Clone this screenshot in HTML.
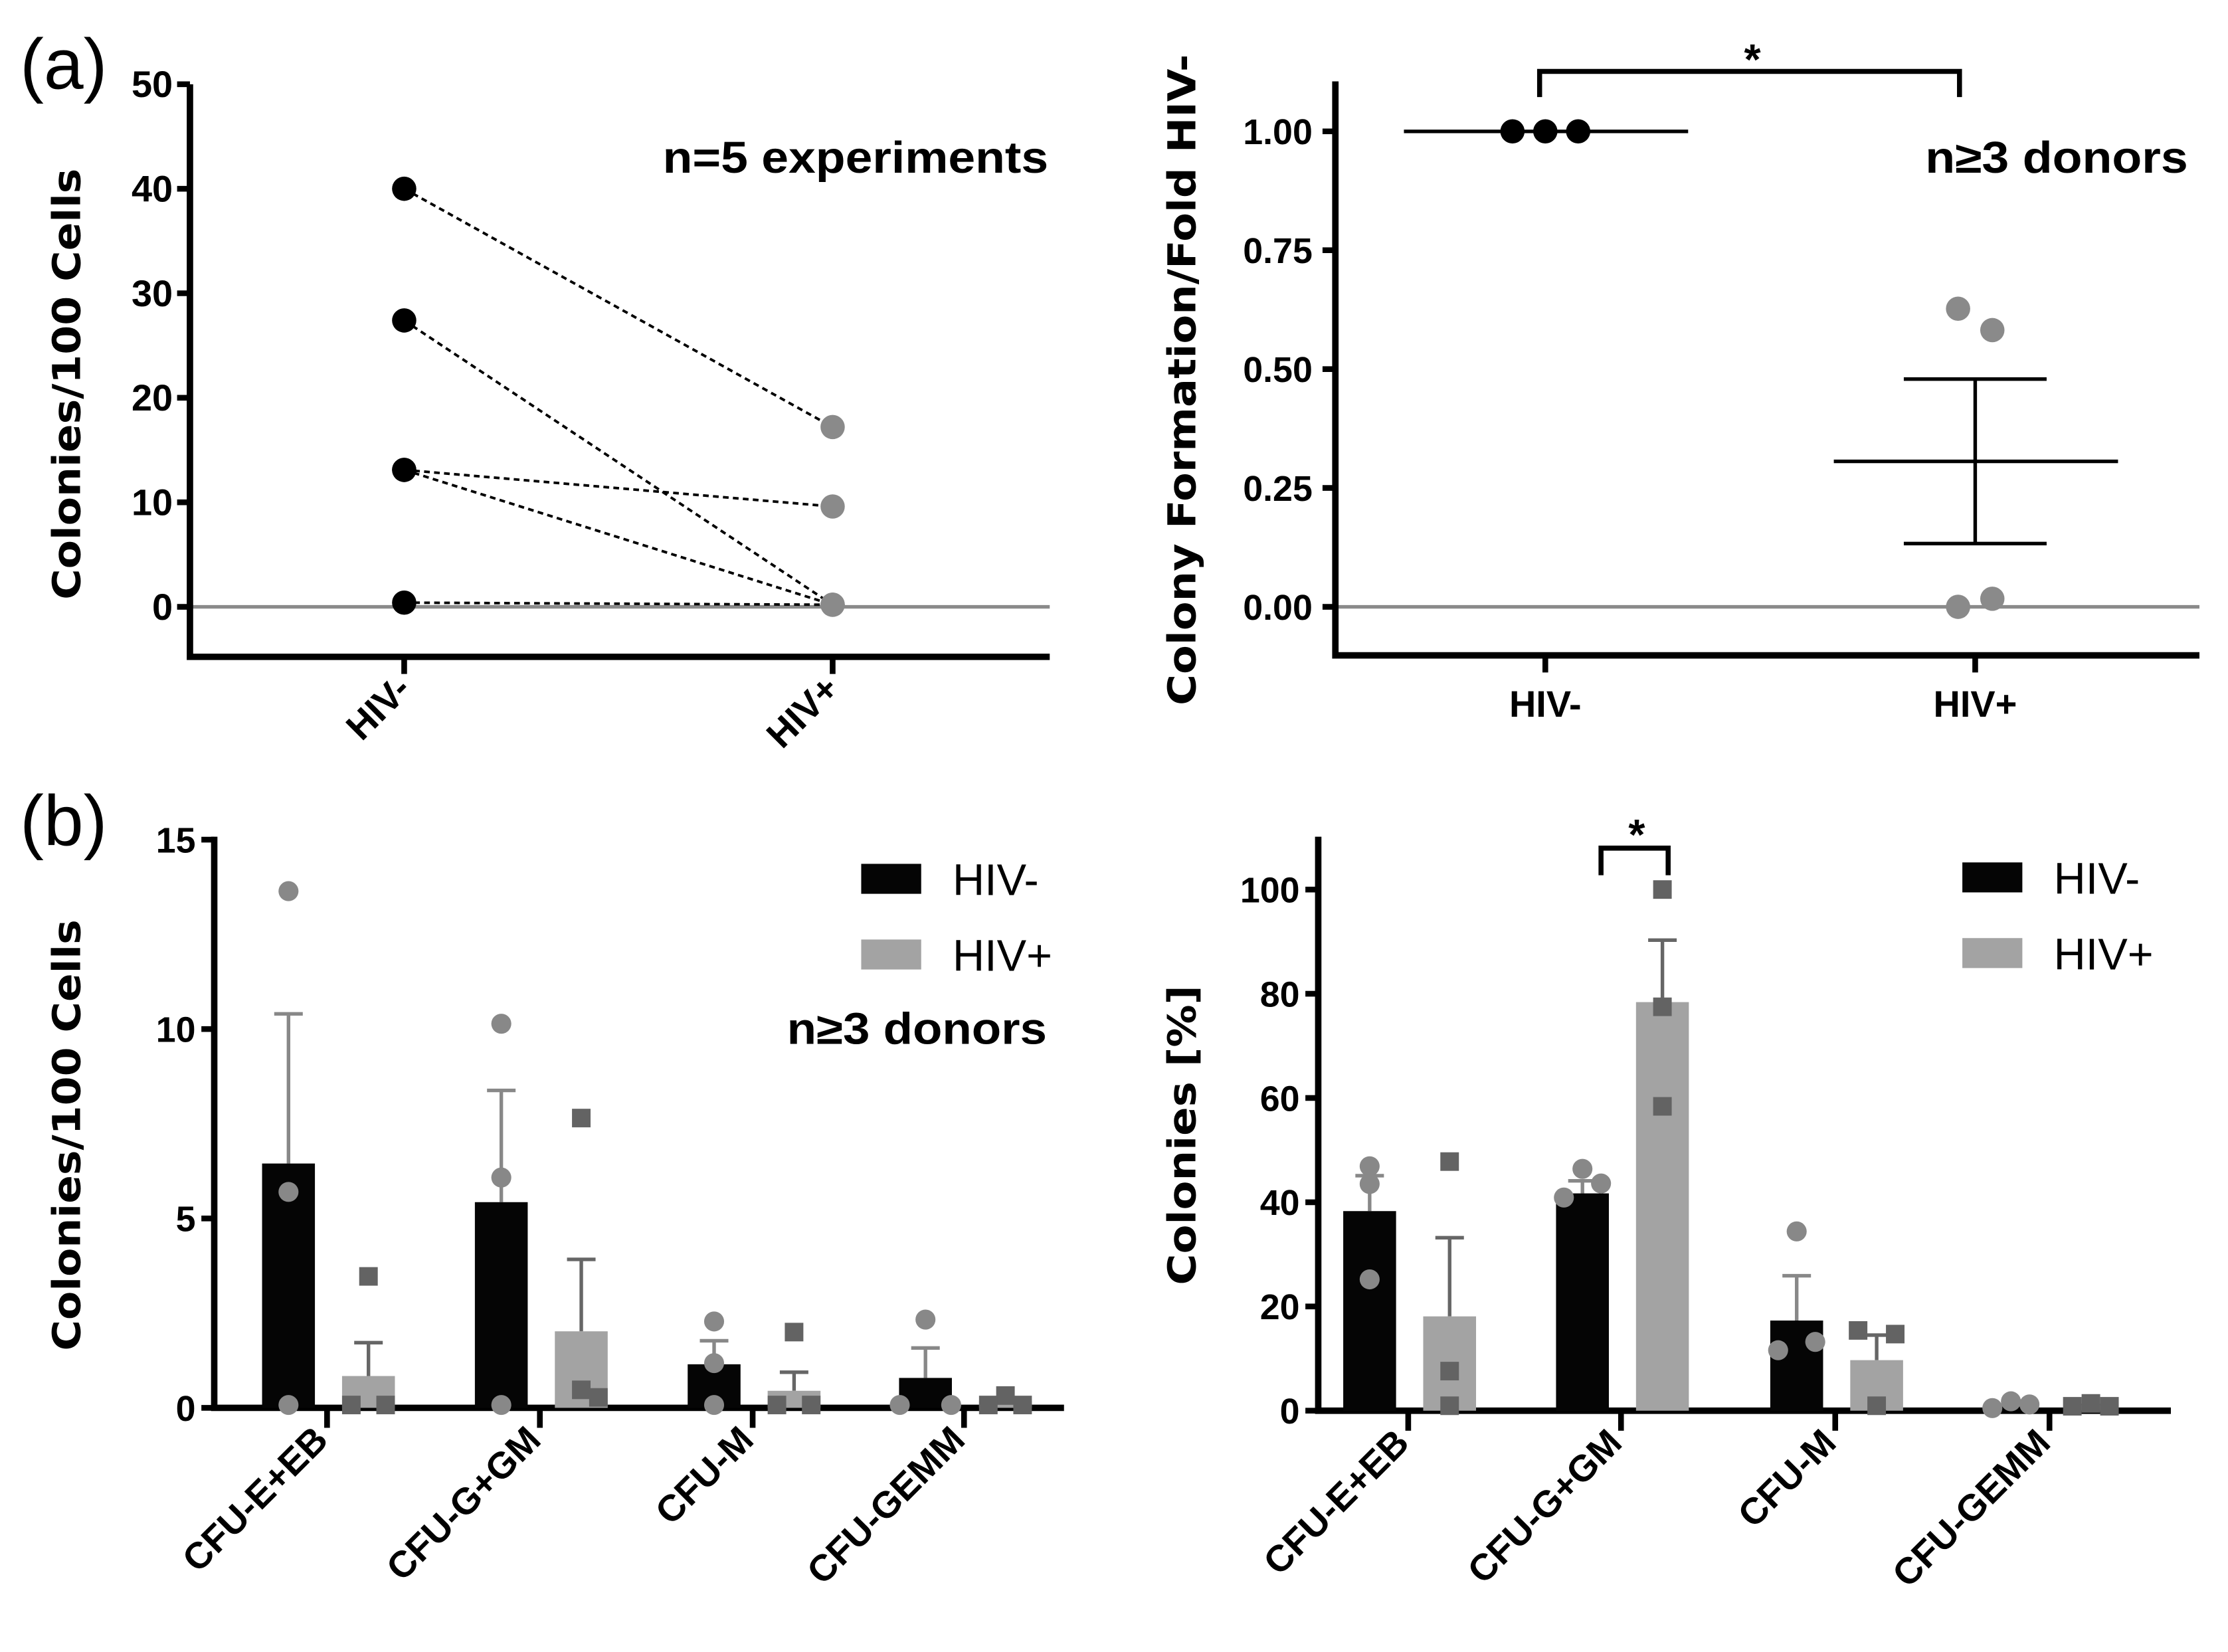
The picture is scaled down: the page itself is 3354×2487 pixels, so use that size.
<!DOCTYPE html>
<html><head><meta charset="utf-8"><style>
html,body{margin:0;padding:0;background:#fff}
svg{display:block}
text{font-family:"Liberation Sans Narrow","Liberation Sans",sans-serif;font-weight:bold;fill:#000}
.t{font-family:"DejaVu Sans","Liberation Sans",sans-serif;font-weight:bold}
.r{font-weight:normal}
</style></head><body>
<svg id="fig" xmlns="http://www.w3.org/2000/svg" width="3354" height="2487" viewBox="0 0 1560 1157" preserveAspectRatio="none">
<text x="14" y="62" font-size="50" class="r">(a)</text>
<text x="14" y="592" font-size="50" class="r">(b)</text>
<g id="a1"></g>
<g id="a2"></g>
<g id="b1"></g>
<g id="b2"></g>
</svg>
<script>
// Panel a-left data
const a1Cats = ["HIV-","HIV+"];
const a1Neg = [40, 27.4, 13.1, 13.1, 0.4];
const a1Pos = [17.2, 0.2, 9.6, 0.2, 0.2];
const a1Ticks = [0,10,20,30,40,50];
// Panel a-right data
const a2Cats = ["HIV-","HIV+"];
const a2Neg = [1, 1, 1];
const a2Pos = [0.627, 0.582, 0.0, 0.017];
const a2Mean = [1, 0.306];
const a2Sem = [0, 0.173];
const a2Ticks = [0,0.25,0.5,0.75,1.0];
// Panel b-left data
const bCats = ["CFU-E+EB","CFU-G+GM","CFU-M","CFU-GEMM"];
const b1NegMean = [6.45, 5.43, 1.15, 0.79];
const b1NegErr = [10.4, 8.38, 1.77, 1.58];
const b1PosMean = [0.84, 2.02, 0.45, 0.19];
const b1PosErr = [1.72, 3.92, 0.94, 0.19];
const b1NegPts = [[13.64,5.7,0],[10.14,6.08,0],[2.28,1.18,0],[2.33,0,0]];
const b1PosPts = [[3.47,0,0],[7.65,0.4,0.2],[2.0,0,0],[0.25,0,0]];
const b1Ticks = [0,5,10,15];
// Panel b-right data
const b2NegMean = [38.3, 41.7, 17.3, 0.8];
const b2NegErr = [45.1, 44.1, 25.9, 0.8];
const b2PosMean = [18.1, 78.4, 9.7, 1.0];
const b2PosErr = [33.2, 90.3, 14.5, 1.0];
const b2NegPts = [[46.9,43.5,25.2],[46.4,40.9,43.6],[34.4,11.6,13.2],[1.8,0.5,1.2]];
const b2PosPts = [[47.8,7.6,0.4],[100,77.5,58.4],[15.4,0.4,14.7],[1.4,0.3,0.3]];
const b2Ticks = [0,20,40,60,80,100];

// horizontal scatter offsets (style only)
const b1NegJit=[[0,0,0],[0,0,0],[0,0,0],[0,-18,18]];
const b1PosJit=[[0,-12,12],[0,0,12],[0,-12,12],[0,-12,12]];
const b2NegJit=[[0,0,0],[0,-13,13],[0,-13,13],[0,-13,13]];
const b2PosJit=[[0,0,0],[0,0,0],[-13,0,13],[0,-13,13]];

const NS="http://www.w3.org/2000/svg";
function mk(parent,tag,attrs,txt){const e=document.createElementNS(NS,tag);for(const k in attrs)e.setAttribute(k,attrs[k]);if(txt!==undefined)e.textContent=txt;parent.appendChild(e);return e;}

// ---------- A1 ----------
(function(){
const g=document.getElementById('a1');
const X0=133,X1=735,Yb=460,Yt=59;
const y=v=>425-v*7.32;
const xc=i=>[283,583][i];
let l=mk(g,'line',{x1:X0,y1:y(0),x2:X1,y2:y(0),stroke:'#8a8a8a','stroke-width':2.5});


let ax=mk(g,'path',{d:`M${X0},${Yt}V${Yb}H${X1}`,fill:'none',stroke:'#000','stroke-width':4.5});


a1Ticks.forEach(t=>{
 mk(g,'line',{x1:X0-9,y1:y(t),x2:X0,y2:y(t),stroke:'#000','stroke-width':4});
 const tx=mk(g,'text',{x:X0-12,y:y(t)+9,'font-size':26,'text-anchor':'end'},t);
 
 
});
a1Cats.forEach((c,i)=>{
 mk(g,'line',{x1:xc(i),y1:Yb,x2:xc(i),y2:Yb+12,stroke:'#000','stroke-width':4});
 const tx=mk(g,'text',{x:xc(i)+6,y:Yb+24,'font-size':26,'text-anchor':'end',transform:`rotate(-45 ${xc(i)+6} ${Yb+24})`},c);
 
 
});
a1Neg.forEach((v,i)=>{
 const ln=mk(g,'line',{x1:xc(0),y1:y(v),x2:xc(1),y2:y(a1Pos[i]),stroke:'#000','stroke-width':1.8,'stroke-dasharray':'4 3'});
 
 
});
a1Neg.forEach(v=>{const c=mk(g,'circle',{cx:xc(0),cy:y(v),r:8.5,fill:'#000'});
 
 });
a1Pos.forEach(v=>{const c=mk(g,'circle',{cx:xc(1),cy:y(v),r:8.5,fill:'#8a8a8a'});
 
 });
let t=mk(g,'text',{x:734,y:121,'font-size':31,'text-anchor':'end',textLength:270,lengthAdjust:'spacingAndGlyphs'},'n=5 experiments');


t=mk(g,'text',{x:0,y:0,'font-size':27,'text-anchor':'middle',class:'t',transform:'translate(56 269) rotate(-90)',textLength:302,lengthAdjust:'spacingAndGlyphs'},'Colonies/100 Cells');


})();

// ---------- A2 ----------
(function(){
const g=document.getElementById('a2');
const X0=935,X1=1540,Yb=459,Yt=57;
const y=v=>425-v*333;
const xc=i=>[1082,1383][i];
let l=mk(g,'line',{x1:X0,y1:y(0),x2:X1,y2:y(0),stroke:'#8a8a8a','stroke-width':2.5});


let ax=mk(g,'path',{d:`M${X0},${Yt}V${Yb}H${X1}`,fill:'none',stroke:'#000','stroke-width':4.5});


a2Ticks.forEach(t=>{
 mk(g,'line',{x1:X0-9,y1:y(t),x2:X0,y2:y(t),stroke:'#000','stroke-width':4});
 const tx=mk(g,'text',{x:X0-16,y:y(t)+9,'font-size':25,'text-anchor':'end'},t.toFixed(2));
 
 
});
a2Cats.forEach((c,i)=>{
 mk(g,'line',{x1:xc(i),y1:Yb,x2:xc(i),y2:Yb+12,stroke:'#000','stroke-width':4});
 const tx=mk(g,'text',{x:xc(i),y:Yb+43,'font-size':26,'text-anchor':'middle'},c);
 
 
});
[0,1].forEach(i=>{
 const m=mk(g,'line',{x1:xc(i)-99,y1:y(a2Mean[i]),x2:xc(i)+100,y2:y(a2Mean[i]),stroke:'#000','stroke-width':2.5});
 
 
 if(a2Sem[i]>0){
  const hi=y(a2Mean[i]+a2Sem[i]),lo=y(a2Mean[i]-a2Sem[i]);
  const e=mk(g,'path',{d:`M${xc(i)},${hi}V${lo}M${xc(i)-50},${hi}H${xc(i)+50}M${xc(i)-50},${lo}H${xc(i)+50}`,stroke:'#000','stroke-width':2.5,fill:'none'});
  
  
 }
});
a2Neg.forEach((v,i)=>{const c=mk(g,'circle',{cx:xc(0)-23+i*23,cy:y(v),r:8.5,fill:'#000'});
 
 });
a2Pos.forEach((v,i)=>{const c=mk(g,'circle',{cx:xc(1)+(i%2?12:-12),cy:y(v),r:8.5,fill:'#8a8a8a'});
 
 });
const b=mk(g,'path',{d:`M${xc(0)-4},68V50H${xc(1)-11}V68`,stroke:'#000','stroke-width':3.5,fill:'none'});


let t=mk(g,'text',{x:1227,y:52,'font-size':30,'text-anchor':'middle'},'*');


t=mk(g,'text',{x:1532,y:121,'font-size':31,'text-anchor':'end',textLength:184,lengthAdjust:'spacingAndGlyphs'},'n≥3 donors');


t=mk(g,'text',{x:0,y:0,'font-size':27,'text-anchor':'middle',class:'t',transform:'translate(837 266) rotate(-90)',textLength:456,lengthAdjust:'spacingAndGlyphs'},'Colony Formation/Fold HIV-');


})();

// ---------- B panels ----------
function barPanel(id,o){
const g=document.getElementById(id);
const y=v=>o.y0-v*o.k;
let ax=mk(g,'path',{d:`M${o.X0},${o.Yt}V${o.y0}H${o.X1}`,fill:'none',stroke:'#000','stroke-width':4.5});


o.ticks.forEach(t=>{
 mk(g,'line',{x1:o.X0-9,y1:y(t),x2:o.X0,y2:y(t),stroke:'#000','stroke-width':4});
 const tx=mk(g,'text',{x:o.X0-13,y:y(t)+9,'font-size':25,'text-anchor':'end'},t);
 
 
});
bCats.forEach((c,i)=>{
 const tx0=o.xt[i];
 mk(g,'line',{x1:tx0,y1:o.y0,x2:tx0,y2:o.y0+14,stroke:'#000','stroke-width':4});
 const tx=mk(g,'text',{x:tx0+2,y:o.y0+24,'font-size':26,'text-anchor':'end',transform:`rotate(-45 ${tx0+2} ${o.y0+24})`},c);
 
 
 const series=[{m:o.negM,e:o.negE,p:o.negP,j:o.negJ,dx:-27,fill:'#050505',ec:'#888',name:'hiv-neg'},
               {m:o.posM,e:o.posE,p:o.posP,j:o.posJ,dx:29,fill:'#a3a3a3',ec:'#666',name:'hiv-pos'}];
 series.forEach((s,si)=>{
  const cx=tx0+s.dx, top=y(s.m[i]);
  const eb=mk(g,'path',{d:`M${cx},${top}V${y(s.e[i])}M${cx-10},${y(s.e[i])}H${cx+10}`,stroke:s.ec,'stroke-width':2.5,fill:'none'});
  
  
  const r=mk(g,'rect',{x:cx-18.5,y:top,width:37,height:o.y0-top,fill:s.fill});
  
  
  s.p[i].forEach((v,j)=>{
   let el;
   const px=cx+s.j[i][j];
   if(si===0){el=mk(g,'circle',{cx:px,cy:y(v)-(v<0.5?2:0),r:7,fill:'#888'});}
   else{el=mk(g,'rect',{x:px-6.5,y:y(v)-6.5-(v<0.5?2:0),width:13,height:13,fill:'#636363'});}
   
   
  });
 });
});
[['HIV-','#050505',o.ly],['HIV+','#a3a3a3',o.ly+53]].forEach(([lab,col,yy])=>{
 const r=mk(g,'rect',{x:o.lx,y:yy,width:42,height:21,fill:col});
 
 
 const t=mk(g,'text',{x:o.lx+64,y:yy+22,'font-size':31,class:'r'},lab);
 
 
});
let t=mk(g,'text',{x:0,y:0,'font-size':27,'text-anchor':'middle',class:'t',transform:`translate(${o.tx} 795) rotate(-90)`,textLength:o.tl,lengthAdjust:'spacingAndGlyphs'},o.title);


return {g,y};
}
const p1=barPanel('b1',{X0:150,X1:745,Yt:586,y0:986,k:26.53,ticks:b1Ticks,xt:[229,378,527,675],
 negM:b1NegMean,negE:b1NegErr,posM:b1PosMean,posE:b1PosErr,negP:b1NegPts,posP:b1PosPts,negJ:b1NegJit,posJ:b1PosJit,
 lx:603,ly:605,tx:56,tl:302,title:'Colonies/100 Cells'});
let nt=mk(p1.g,'text',{x:733,y:731,'font-size':31,'text-anchor':'end',textLength:182,lengthAdjust:'spacingAndGlyphs'},'n≥3 donors');


const p2=barPanel('b2',{X0:923,X1:1520,Yt:586,y0:988,k:3.65,ticks:b2Ticks,xt:[986,1135,1285,1435],
 negM:b2NegMean,negE:b2NegErr,posM:b2PosMean,posE:b2PosErr,negP:b2NegPts,posP:b2PosPts,negJ:b2NegJit,posJ:b2PosJit,
 lx:1374,ly:604,tx:837,tl:210,title:'Colonies [%]'});
let br=mk(p2.g,'path',{d:'M1121,613V594H1168V613',stroke:'#000','stroke-width':3.5,fill:'none'});


let st=mk(p2.g,'text',{x:1146,y:595,'font-size':30,'text-anchor':'middle'},'*');


</script>
</body></html>
